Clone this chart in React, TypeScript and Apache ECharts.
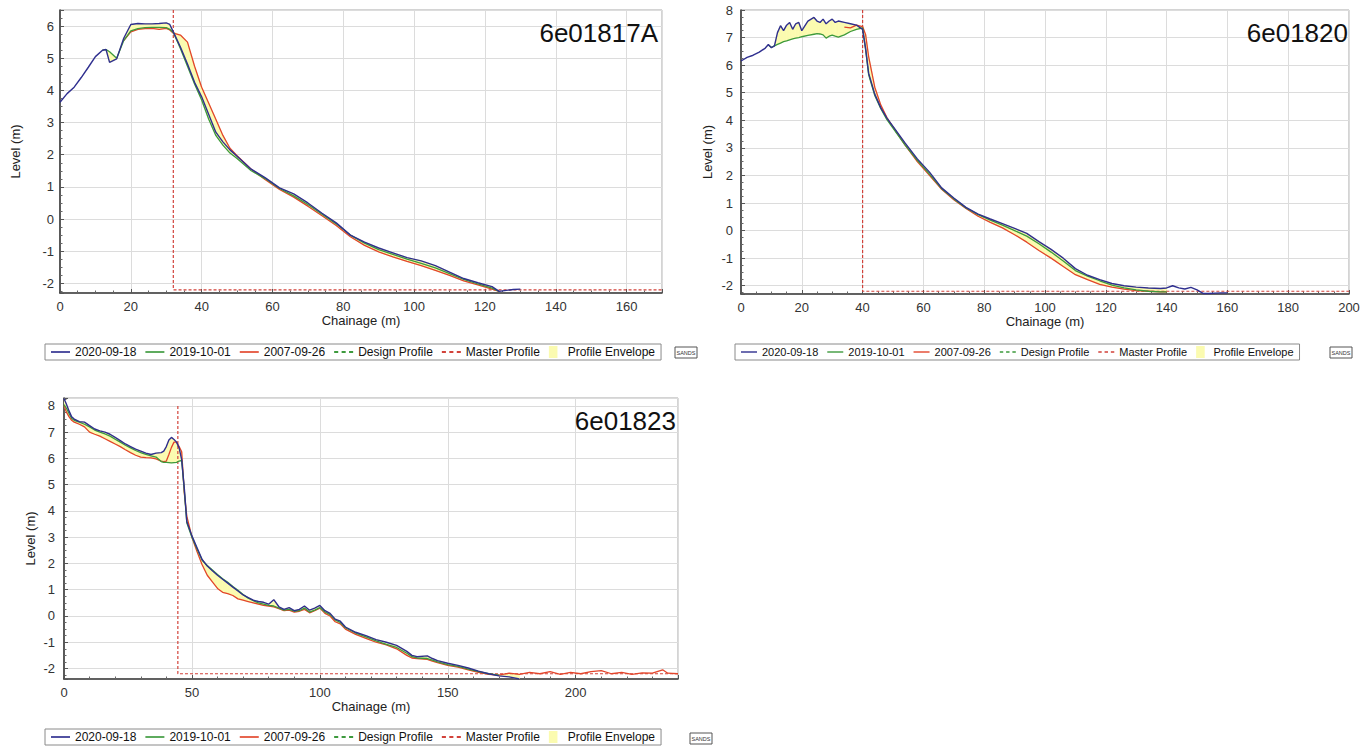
import React, { useEffect, useRef } from "react";
import * as echarts from "echarts";

// ---------------- DATA ----------------
// Panel 1 : 6e01817A
const P1_CHAINAGE = [0, 2, 4, 6, 8, 10, 12, 13, 14, 16, 18, 20, 22, 24, 26, 28, 30, 31, 32, 34, 36, 38, 40, 42, 44, 46, 48, 50, 54, 58, 62, 66, 70, 74, 78, 82, 86, 90, 94, 98, 102, 106, 110, 114, 118, 122, 124, 126, 128, 130];
const P1_2020 = [3.63, 3.9, 4.1, 4.4, 4.72, 5.05, 5.25, 5.27, 4.87, 4.98, 5.62, 6.05, 6.08, 6.07, 6.07, 6.08, 6.1, 6.05, 5.82, 5.35, 4.82, 4.25, 3.8, 3.25, 2.7, 2.4, 2.15, 1.95, 1.55, 1.28, 0.97, 0.78, 0.5, 0.18, -0.12, -0.5, -0.72, -0.9, -1.05, -1.2, -1.3, -1.45, -1.65, -1.85, -1.98, -2.1, -2.25, -2.22, -2.19, -2.18];
const P1_2019 = [null, null, null, null, null, null, 5.25, 5.27, 5.2, 5.0, 5.55, 5.85, 5.92, 5.95, 5.96, 5.96, 5.95, 5.9, 5.8, 5.3, 4.75, 4.2, 3.7, 3.1, 2.6, 2.3, 2.05, 1.88, 1.5, 1.25, 0.95, 0.72, 0.45, 0.15, -0.15, -0.5, -0.75, -0.95, -1.1, -1.25, -1.38, -1.52, -1.7, -1.88, -2.02, -2.15, -2.25, null, null, null];
const P1_2007 = [null, null, null, null, null, null, null, null, null, null, 5.55, 5.82, 5.9, 5.92, 5.93, 5.9, 5.93, 5.88, 5.78, 5.72, 5.5, 4.75, 4.1, 3.6, 3.1, 2.6, 2.2, 1.97, 1.55, 1.22, 0.92, 0.68, 0.4, 0.1, -0.2, -0.55, -0.82, -1.02, -1.18, -1.32, -1.45, -1.6, -1.75, -1.92, -2.05, -2.18, -2.25, null, null, null];
const P1_MASTER = [[32, 6.5], [32, -2.2], [170, -2.2]];

// Panel 2 : 6e01820
const P2_CHAINAGE = [0, 2, 4, 6, 8, 9, 10, 11, 12, 13, 14, 15, 16, 17, 18, 19, 20, 22, 24, 25, 26, 27, 28, 29, 30, 31, 32, 34, 36, 38, 40, 41, 42, 44, 46, 48, 50, 54, 58, 62, 66, 70, 74, 78, 82, 86, 90, 94, 98, 102, 106, 110, 114, 118, 122, 126, 130, 134, 138, 140, 142, 144, 146, 148, 150, 152, 154, 156, 158, 160];
const P2_2020 = [6.15, 6.28, 6.36, 6.47, 6.62, 6.75, 6.63, 6.7, 7.18, 7.43, 7.25, 7.45, 7.55, 7.3, 7.5, 7.55, 7.25, 7.6, 7.73, 7.6, 7.55, 7.67, 7.5, 7.6, 7.67, 7.55, 7.6, 7.55, 7.5, 7.45, 7.3, 6.6, 5.7, 4.95, 4.45, 4.08, 3.78, 3.17, 2.6, 2.12, 1.55, 1.18, 0.84, 0.6, 0.42, 0.25, 0.08, -0.1, -0.4, -0.68, -1.0, -1.38, -1.62, -1.78, -1.92, -2.0, -2.05, -2.08, -2.1, -2.08, -2.0, -2.08, -2.12, -2.06, -2.15, -2.28, -2.28, -2.27, -2.26, -2.26];
const P2_2019 = [null, null, null, null, null, 6.72, 6.65, 6.7, 6.75, 6.8, 6.85, 6.88, 6.92, 6.95, 6.98, 7.0, 7.03, 7.08, 7.12, 7.14, 7.13, 7.1, 6.98, 7.05, 7.09, 7.05, 7.02, 7.1, 7.22, 7.3, 7.35, 6.55, 5.65, 4.9, 4.42, 4.02, 3.72, 3.1, 2.55, 2.05, 1.52, 1.15, 0.82, 0.58, 0.38, 0.2, 0.0, -0.2, -0.48, -0.78, -1.1, -1.45, -1.65, -1.82, -1.98, -2.08, -2.15, -2.2, -2.22, -2.22, null, null, null, null, null, null, null, null, null, null];
const P2_2007 = [null, null, null, null, null, null, null, null, null, null, null, null, null, null, null, null, null, null, null, null, null, null, null, null, null, null, null, 7.38, 7.35, 7.45, 7.4, 7.1, 6.3, 5.2, 4.55, 4.1, 3.75, 3.1, 2.5, 2.0, 1.5, 1.12, 0.8, 0.52, 0.3, 0.1, -0.15, -0.42, -0.72, -1.0, -1.3, -1.6, -1.78, -1.95, -2.05, -2.12, -2.18, -2.2, -2.22, -2.22, null, null, null, null, null, null, null, null, null, null];
const P2_MASTER = [[40, 8], [40, -2.2], [200, -2.2]];

// Panel 3 : 6e01823
const P3_CHAINAGE = [0, 1, 2, 3, 4, 6, 8, 10, 12, 14, 16, 18, 20, 22, 24, 26, 28, 30, 32, 34, 36, 38, 39, 40, 41, 42, 43, 44, 45, 46, 47, 48, 50, 52, 54, 56, 58, 60, 62, 64, 66, 68, 70, 72, 74, 76, 78, 80, 82, 84, 86, 88, 90, 92, 94, 96, 98, 100, 102, 104, 106, 108, 110, 114, 118, 122, 126, 130, 134, 136, 138, 142, 144, 146, 150, 154, 158, 162, 166, 170, 174, 178, 182, 186, 190, 194, 198, 202, 206, 210, 214, 218, 222, 226, 230, 234, 236, 240];
const P3_2020 = [8.28, 8.05, 7.8, 7.58, 7.5, 7.4, 7.38, 7.25, 7.12, 7.05, 7.0, 6.92, 6.8, 6.68, 6.55, 6.45, 6.35, 6.28, 6.2, 6.15, 6.2, 6.22, 6.28, 6.45, 6.7, 6.8, 6.72, 6.62, 6.4, 5.95, 4.9, 3.6, 3.05, 2.6, 2.15, 1.9, 1.72, 1.55, 1.4, 1.25, 1.1, 0.95, 0.8, 0.7, 0.6, 0.55, 0.52, 0.45, 0.62, 0.35, 0.25, 0.32, 0.2, 0.25, 0.38, 0.22, 0.3, 0.4, 0.2, 0.1, -0.12, -0.2, -0.42, -0.62, -0.75, -0.9, -1.0, -1.12, -1.35, -1.5, -1.55, -1.52, -1.62, -1.7, -1.8, -1.88, -1.98, -2.1, -2.2, -2.28, -2.32, -2.4, null, null, null, null, null, null, null, null, null, null, null, null, null, null, null, null];
const P3_2019 = [8.05, 7.9, 7.7, 7.52, 7.45, 7.38, 7.3, 7.2, 7.08, 7.0, 6.93, 6.85, 6.73, 6.62, 6.5, 6.4, 6.3, 6.22, 6.15, 6.1, 6.05, 5.88, 5.85, 5.85, 5.84, 5.83, 5.84, 5.85, 5.9, 5.92, 4.8, 3.55, 3.0, 2.55, 2.12, 1.92, 1.75, 1.58, 1.42, 1.28, 1.12, 0.98, 0.82, 0.68, 0.58, 0.5, 0.45, 0.4, 0.38, 0.3, 0.22, 0.25, 0.18, 0.2, 0.3, 0.15, 0.22, 0.32, 0.15, 0.05, -0.15, -0.25, -0.45, -0.65, -0.8, -0.95, -1.08, -1.2, -1.42, -1.55, -1.6, -1.62, -1.68, -1.75, -1.85, -1.92, -2.02, -2.12, -2.2, -2.25, null, null, null, null, null, null, null, null, null, null, null, null, null, null, null, null, null, null];
const P3_2007 = [8.02, 7.75, 7.58, 7.45, 7.38, 7.3, 7.2, 7.0, 6.92, 6.85, 6.75, 6.65, 6.55, 6.45, 6.33, 6.22, 6.12, 6.05, 6.03, 6.02, 5.98, 5.9, 5.88, 5.9, 6.15, 6.42, 6.62, 6.62, 6.45, 6.25, 4.7, 3.8, 3.0, 2.45, 1.95, 1.55, 1.3, 1.05, 0.9, 0.85, 0.78, 0.65, 0.6, 0.55, 0.5, 0.45, 0.4, 0.38, 0.35, 0.28, 0.2, 0.22, 0.15, 0.18, 0.25, 0.12, 0.2, 0.3, 0.1, 0.0, -0.22, -0.3, -0.5, -0.7, -0.85, -1.0, -1.1, -1.25, -1.5, -1.6, -1.62, -1.65, -1.72, -1.78, -1.88, -1.95, -2.05, -2.15, -2.22, -2.25, -2.18, -2.22, -2.15, -2.2, -2.12, -2.22, -2.15, -2.2, -2.12, -2.08, -2.2, -2.15, -2.22, -2.17, -2.18, -2.05, -2.18, -2.2];
const P3_MASTER = [[44.5, 8], [44.5, -2.2], [240, -2.2]];

const PANEL_TITLES = ["6e01817A", "6e01820", "6e01823"];
const SURVEY_NAMES = ["2020-09-18", "2019-10-01", "2007-09-26"];
const LEGEND_NAMES = ["2020-09-18", "2019-10-01", "2007-09-26", "Design Profile", "Master Profile", "Profile Envelope"];

// ---------------- STYLE ----------------
const FONT = '"Liberation Sans", Arial, sans-serif';
const C_BLUE = "#2f2f8f";
const C_GREEN = "#3d9a3d";
const C_RED = "#e2452b";
const C_MASTER = "#d2423a";
const C_YELLOW = "#fbfbb0";

const LINE_ICON = "path://M0,0 L16,0 L16,1.4 L0,1.4 Z";
const DASH_ICON = "path://M0,0 L3,0 L3,1.3 L0,1.3 Z M5.5,0 L8.5,0 L8.5,1.3 L5.5,1.3 Z M11,0 L14,0 L14,1.3 L11,1.3 Z";
const BOX_ICON = "path://M0,0 L10,0 L10,14 L0,14 Z";

type Num = number | null;

function pairs(xs: number[], ys: Num[]) {
  const out: number[][] = [];
  xs.forEach((x, i) => {
    if (ys[i] != null) out.push([x, ys[i] as number]);
  });
  return out;
}

function envelopeSeries(xs: number[], arrs: Num[][], idx: number) {
  const rows: number[][] = [];
  xs.forEach((x, i) => {
    const vals = arrs.map((a) => a[i]).filter((v) => v != null) as number[];
    if (vals.length >= 2) rows.push([x, Math.min(...vals), Math.max(...vals), i]);
  });
  return {
    type: "custom",
    name: "Profile Envelope",
    xAxisIndex: idx,
    yAxisIndex: idx,
    data: rows,
    encode: { x: 0, y: [1, 2] },
    itemStyle: { color: C_YELLOW },
    color: C_YELLOW,
    clip: true,
    z: 1,
    renderItem: (params: any, api: any) => {
      const i = params.dataIndex;
      if (i >= rows.length - 1) return null;
      const a = rows[i];
      const b = rows[i + 1];
      if (b[3] !== a[3] + 1) return null;
      const pts = [
        api.coord([a[0], a[1]]),
        api.coord([b[0], b[1]]),
        api.coord([b[0], b[2]]),
        api.coord([a[0], a[2]]),
      ];
      return {
        type: "polygon",
        shape: { points: pts },
        style: { fill: C_YELLOW, stroke: C_YELLOW, lineWidth: 0.8 },
      };
    },
  };
}

function panelSeries(xs: number[], blue: Num[], green: Num[], red: Num[], master: number[][], idx: number) {
  const base = { xAxisIndex: idx, yAxisIndex: idx, showSymbol: false, symbol: "none", z: 3 };
  return [
    envelopeSeries(xs, [blue, green, red], idx),
    { ...base, type: "line", name: "Master Profile", data: master, color: C_MASTER, lineStyle: { color: C_MASTER, width: 1.2, type: [3, 2] } },
    { ...base, type: "line", name: "Design Profile", data: [], color: C_GREEN, lineStyle: { color: C_GREEN, width: 1, type: [3, 2] } },
    { ...base, type: "line", name: SURVEY_NAMES[2], data: pairs(xs, red), color: C_RED, lineStyle: { color: C_RED, width: 1.3 } },
    { ...base, type: "line", name: SURVEY_NAMES[1], data: pairs(xs, green), color: C_GREEN, lineStyle: { color: C_GREEN, width: 1.3 } },
    { ...base, type: "line", name: SURVEY_NAMES[0], data: pairs(xs, blue), color: C_BLUE, lineStyle: { color: C_BLUE, width: 1.4 } },
  ];
}

function xAxisCfg(gridIndex: number, max: number, step: number, minorSplit: number) {
  return {
    type: "value",
    gridIndex,
    min: 0,
    max,
    minInterval: step,
    maxInterval: step,
    name: "Chainage (m)",
    nameLocation: "middle",
    nameGap: 21,
    nameTextStyle: { fontSize: 13, color: "#222", fontFamily: FONT },
    axisLine: { show: true, onZero: false, lineStyle: { color: "#3a3a3a", width: 1.6 } },
    axisTick: { show: true, inside: true, length: 4, lineStyle: { color: "#555" } },
    minorTick: { show: true, splitNumber: minorSplit, length: 2.5, lineStyle: { color: "#666" } },
    axisLabel: {
      fontSize: 13,
      color: "#333",
      margin: 7,
      fontFamily: FONT,
      formatter: (v: number) => (Math.abs(v / step - Math.round(v / step)) < 1e-6 ? String(Math.round(v)) : ""),
    },
    splitLine: { show: true, lineStyle: { color: "#dcdcdc", width: 1 } },
  };
}

function yAxisCfg(gridIndex: number, min: number, max: number, gap: number, margin: number) {
  return {
    type: "value",
    gridIndex,
    min,
    max,
    minInterval: 1,
    maxInterval: 1,
    name: "Level (m)",
    nameLocation: "middle",
    nameGap: gap,
    nameRotate: 90,
    nameTextStyle: { fontSize: 13, color: "#222", fontFamily: FONT },
    axisLine: { show: true, onZero: false, lineStyle: { color: "#3a3a3a", width: 1.6 } },
    axisTick: { show: true, inside: true, length: 4, lineStyle: { color: "#555" } },
    minorTick: { show: true, splitNumber: 4, length: 2.5, lineStyle: { color: "#666" } },
    axisLabel: {
      fontSize: 13,
      color: "#333",
      margin,
      fontFamily: FONT,
      formatter: (v: number) => (Math.abs(v - Math.round(v)) < 1e-6 ? String(Math.round(v)) : ""),
    },
    splitLine: { show: true, lineStyle: { color: "#dcdcdc", width: 1 } },
  };
}

function legendCfg(left: number, top: number, fontSize: number, itemWidth: number, itemGap: number) {
  const icons = [LINE_ICON, LINE_ICON, LINE_ICON, DASH_ICON, DASH_ICON, BOX_ICON];
  return {
    left,
    top,
    orient: "horizontal",
    selectedMode: false,
    borderColor: "#8a8a8a",
    borderWidth: 1,
    padding: [2, 6, 2, 6],
    itemGap,
    itemWidth,
    itemHeight: 12,
    itemStyle: { borderWidth: 0 },
    textStyle: { fontSize, color: "#111", fontFamily: FONT },
    data: LEGEND_NAMES.map((n, i) => ({ name: n, icon: icons[i] })),
  };
}

function sandsLogo(x: number, y: number) {
  return {
    type: "group",
    x,
    y,
    children: [
      { type: "rect", shape: { x: 0, y: 0, width: 22, height: 11 }, style: { fill: "#fff", stroke: "#555", lineWidth: 1 } },
      { type: "text", x: 11, y: 6, style: { text: "SANDS", fontSize: 5.5, fill: "#333", align: "center", verticalAlign: "middle", fontFamily: FONT } },
    ],
  };
}

function titleCfg(text: string, right: number, top: number) {
  return {
    text,
    right,
    top,
    padding: 0,
    textStyle: { fontSize: 26, fontWeight: "normal", color: "#111", fontFamily: FONT },
  };
}

export default function App() {
  const ref = useRef<HTMLDivElement>(null);
  useEffect(() => {
    if (!ref.current) return;
    const chart = echarts.init(ref.current, null, { renderer: "svg" });
    const gridBase = { show: true, borderColor: "#a9a9a9", borderWidth: 1, backgroundColor: "transparent", containLabel: false, outerBoundsMode: "none" };
    chart.setOption({
      animation: false,
      backgroundColor: "#fff",
      textStyle: { fontFamily: FONT },
      title: [
        titleCfg(PANEL_TITLES[0], 710, 20),
        titleCfg(PANEL_TITLES[1], 20, 20),
        titleCfg(PANEL_TITLES[2], 692, 408),
      ],
      grid: [
        { ...gridBase, left: 60, top: 10, width: 602, height: 283 },
        { ...gridBase, left: 741, top: 10, width: 608, height: 284 },
        { ...gridBase, left: 64, top: 398, width: 614, height: 281 },
      ],
      xAxis: [xAxisCfg(0, 170, 20, 4), xAxisCfg(1, 200, 20, 4), xAxisCfg(2, 240, 50, 5)],
      yAxis: [yAxisCfg(0, -2.3, 6.5, 38, 6), yAxisCfg(1, -2.3, 8, 27, 8), yAxisCfg(2, -2.4, 8.3, 27, 9)],
      legend: [
        legendCfg(45, 344, 12, 19, 9),
        legendCfg(735, 344, 11, 16, 9),
        legendCfg(45, 729, 12, 19, 9),
      ],
      graphic: [sandsLogo(675, 347), sandsLogo(1330, 347), sandsLogo(690, 733)],
      series: [
        ...panelSeries(P1_CHAINAGE, P1_2020, P1_2019, P1_2007, P1_MASTER, 0),
        ...panelSeries(P2_CHAINAGE, P2_2020, P2_2019, P2_2007, P2_MASTER, 1),
        ...panelSeries(P3_CHAINAGE, P3_2020, P3_2019, P3_2007, P3_MASTER, 2),
      ],
    });
    return () => chart.dispose();
  }, []);
  return (
    <div
      ref={ref}
      style={{ position: "fixed", left: 0, top: 0, width: 1368, height: 747, background: "#fff" }}
    />
  );
}
